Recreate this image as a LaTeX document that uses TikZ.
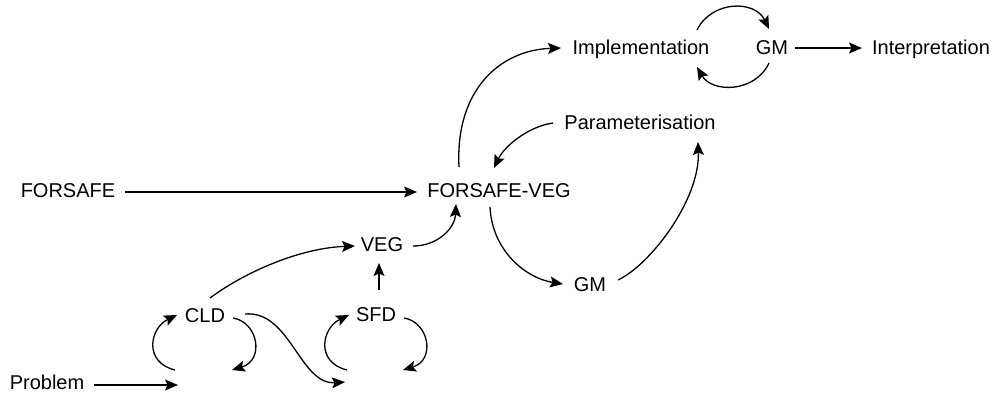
\documentclass[tikz,border=0pt]{standalone}
\usepackage{fontspec}
\setmainfont{Liberation Sans}
\usetikzlibrary{arrows.meta,calc}
\begin{document}
\begin{tikzpicture}[x=1pt,y=-1pt,
  lbl/.style={inner sep=0pt,text height=14.3pt,text depth=0pt,font=\fontsize{20}{24}\selectfont},
  arr/.style={line width=1.3pt,-{Stealth[length=13pt,width=11pt,inset=2.5pt]}}]
\useasboundingbox (0,0) rectangle (995,394);
% nodes
\node[lbl] (prob) at (47,382) {Problem};
\node[lbl] (cld) at (205,315) {CLD};
\node[lbl] (sfd) at (376,314) {SFD};
\node[lbl] (veg) at (382,244) {VEG};
\node[lbl] (fs) at (68,190) {FORSAFE};
\node[lbl] (fv) at (499,190) {FORSAFE-VEG};
\node[lbl] (gma) at (590,284) {GM};
\node[lbl] (par) at (640,122) {Parameterisation};
\node[lbl] (impl) at (641,47) {Implementation};
\node[lbl] (gmb) at (772,47) {GM};
\node[lbl] (intp) at (931,47) {Interpretation};
% free ends
\coordinate (pend) at (178,385);
\coordinate (cldl) at (175,370);
\coordinate (cldr) at (232,370);
\coordinate (send) at (345,382);
\coordinate (sfdl) at (347,370);
\coordinate (sfdr) at (403,370);
% connectors
\draw[arr] ($(fs)+(57,2)$) -- ($(fv)+(-82,2)$);
\draw[arr] ($(prob)+(47,3)$) -- (pend);
\draw[arr] (cldl) .. controls (143,362) and (150,328) .. ($(cld)+(-28,0)$);
\draw[arr] ($(cld)+(28,3)$) .. controls (258,322) and (265,360) .. (cldr);
\draw[arr] ($(cld)+(40,-1)$) .. controls (290,310) and (300,385) .. (send);
\draw[arr] (sfdl) .. controls (315,362) and (322,328) .. ($(sfd)+(-27,1)$);
\draw[arr] ($(sfd)+(28,4)$) .. controls (429,322) and (436,360) .. (sfdr);
\draw[arr] ($(sfd)+(3,-24)$) -- ($(veg)+(-3,19)$);
\draw[arr] ($(cld)+(5,-17)$) .. controls (245,272) and (300,248) .. ($(veg)+(-27,2)$);
\draw[arr] ($(veg)+(31,2)$) .. controls (438,246) and (455,228) .. ($(fv)+(-43,14)$);
\draw[arr] ($(fv)+(-40,-23)$) .. controls (455,90) and (500,50) .. ($(impl)+(-80,1)$);
\draw[arr] ($(par)+(-87,1)$) .. controls (530,126) and (505,145) .. ($(fv)+(-5,-22)$);
\draw[arr] ($(fv)+(-9,17)$) .. controls (492,250) and (525,278) .. ($(gma)+(-27,0)$);
\draw[arr] ($(gma)+(28,-4)$) .. controls (650,265) and (700,200) .. ($(par)+(58,20)$);
\draw[arr] ($(impl)+(56,-17)$) .. controls (712,0) and (755,0) .. ($(gmb)+(-3,-18)$);
\draw[arr] ($(gmb)+(-3,16)$) .. controls (755,93) and (712,93) .. ($(impl)+(56,20)$);
\draw[arr] ($(gmb)+(23,1)$) -- ($(intp)+(-69,1)$);
\end{tikzpicture}
\end{document}
